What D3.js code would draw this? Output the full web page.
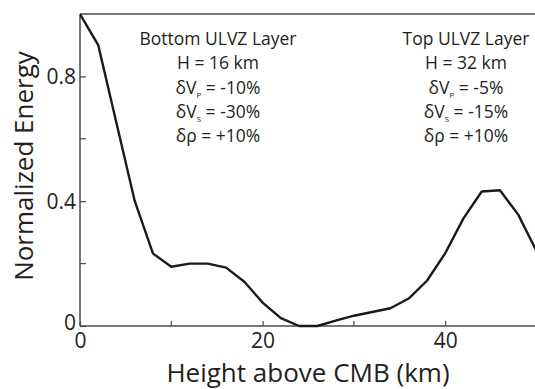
<!DOCTYPE html>
<html>
<head>
<meta charset="utf-8">
<script src="https://cdn.jsdelivr.net/npm/d3@7"></script>
<style>
  html, body { margin: 0; padding: 0; background: #fff; }
  svg { display: block; font-family: "Open Sans", "Noto Sans", sans-serif; }
</style>
</head>
<body>
<svg id="chart" width="535" height="389"></svg>
<script>
// Energy profile against height above the CMB
const heights = [0, 2, 4, 6, 8, 10, 12, 14, 16, 18, 20, 22, 24, 26, 28, 30, 32, 34, 36, 38, 40, 42, 44, 46, 48, 50];
const energy  = [1.0, 0.90, 0.65, 0.40, 0.232, 0.19, 0.20, 0.20, 0.187, 0.142, 0.075, 0.025, 0.0, 0.0, 0.017, 0.033, 0.045, 0.057, 0.088, 0.145, 0.233, 0.345, 0.431, 0.435, 0.357, 0.24];

const xMajorTicks = [0, 20, 40];
const xMinorTicks = [10, 30];
const yMajorTicks = [0, 0.4, 0.8];
const yMinorTicks = [0.2, 0.6];

const bottomLayer = { title: "Bottom ULVZ Layer", H: "H = 16 km", vp: "-10%", vs: "-30%", rho: "+10%" };
const topLayer    = { title: "Top ULVZ Layer",    H: "H = 32 km", vp: "-5%",  vs: "-15%", rho: "+10%" };

const svg = d3.select("#chart");
const plotLeft = 80, plotRight = 536.5, plotTop = 14, plotBottom = 326;

const x = d3.scaleLinear().domain([0, 50]).range([plotLeft, plotRight]);
const y = d3.scaleLinear().domain([0, 1]).range([plotBottom, plotTop]);

const axisColor = "#4a4a4a";
const textColor = "#231f20";

// Clip the plot to the frame
svg.append("defs").append("clipPath").attr("id", "plotClip")
  .append("rect").attr("x", plotLeft).attr("y", plotTop - 2)
  .attr("width", plotRight - plotLeft).attr("height", plotBottom - plotTop + 4);

// Frame: top edge
svg.append("line")
  .attr("x1", plotLeft).attr("x2", 535).attr("y1", plotTop).attr("y2", plotTop)
  .attr("stroke", axisColor).attr("stroke-width", 1.5);

// X axis (ticks point inward)
const xAxis = d3.axisBottom(x).tickValues(xMajorTicks).tickSizeInner(-5).tickSizeOuter(0)
  .tickPadding(7).tickFormat(d3.format("d"));
const gx = svg.append("g").attr("transform", `translate(0,${plotBottom})`).call(xAxis);
svg.append("g").attr("transform", `translate(0,${plotBottom})`)
  .selectAll("line").data(xMinorTicks).join("line")
  .attr("x1", d => x(d)).attr("x2", d => x(d)).attr("y1", 0).attr("y2", -5)
  .attr("stroke", axisColor).attr("stroke-width", 1.2);

// Y axis (ticks point inward)
const yAxis = d3.axisLeft(y).tickValues(yMajorTicks).tickSizeInner(-6).tickSizeOuter(0).tickPadding(4)
  .tickFormat(d => d === 0 ? "0" : d3.format(".1f")(d));
const gy = svg.append("g").attr("transform", `translate(${plotLeft},0)`).call(yAxis);
svg.append("g").attr("transform", `translate(${plotLeft},0)`)
  .selectAll("line").data(yMinorTicks).join("line")
  .attr("x1", 0).attr("x2", 6).attr("y1", d => y(d)).attr("y2", d => y(d))
  .attr("stroke", axisColor).attr("stroke-width", 1.2);

[gx, gy].forEach(g => {
  g.select(".domain").attr("stroke", axisColor).attr("stroke-width", 1.5);
  g.selectAll(".tick line").attr("stroke", axisColor).attr("stroke-width", 1.2);
  g.selectAll(".tick text").attr("fill", textColor).style("font-size", "21px")
    .style("font-family", "\"Open Sans\", sans-serif");
});
gy.select(".domain").attr("d", `M0,${plotTop}V${plotBottom}`);
gx.select(".domain").attr("d", `M${plotLeft},0H535`);
// the zero label sits a little above the corner so it clears the x labels
gy.selectAll(".tick text").attr("dy", d => d === 0 ? "0.18em" : "0.36em");

// Energy curve
svg.append("path")
  .datum(heights.map((h, i) => [h, energy[i]]))
  .attr("clip-path", "url(#plotClip)")
  .attr("fill", "none").attr("stroke", "#1a1a1a").attr("stroke-width", 2.4)
  .attr("stroke-linejoin", "round")
  .attr("d", d3.line().x(d => x(d[0])).y(d => y(d[1])));

// Axis titles
svg.append("text")
  .attr("x", 308).attr("y", 382).attr("text-anchor", "middle")
  .attr("fill", textColor).style("font-size", "26px")
  .text("Height above CMB (km)");

svg.append("text")
  .attr("transform", "translate(33,166) rotate(-90)")
  .attr("text-anchor", "middle").attr("fill", textColor).style("font-size", "26px")
  .text("Normalized Energy");

// Layer parameter blocks
function layerBlock(cx, info) {
  const g = svg.append("g").attr("fill", textColor).style("font-size", "17.5px").attr("text-anchor", "middle");
  const base = 45, step = 24.3;
  g.append("text").attr("x", cx).attr("y", base).text(info.title);
  g.append("text").attr("x", cx).attr("y", base + step).text(info.H);
  const rows = [["V", "P", info.vp], ["V", "S", info.vs]];
  rows.forEach((r, i) => {
    const t = g.append("text").attr("x", cx).attr("y", base + step * (2 + i));
    t.append("tspan").text("δ" + r[0]);
    t.append("tspan").attr("dy", 4).style("font-size", "8px").text(r[1]);
    t.append("tspan").attr("dy", -4).text(" = " + r[2]);
  });
  g.append("text").attr("x", cx).attr("y", base + step * 4).text("δρ = " + info.rho);
}
layerBlock(218, bottomLayer);
layerBlock(466, topLayer);
</script>
</body>
</html>
